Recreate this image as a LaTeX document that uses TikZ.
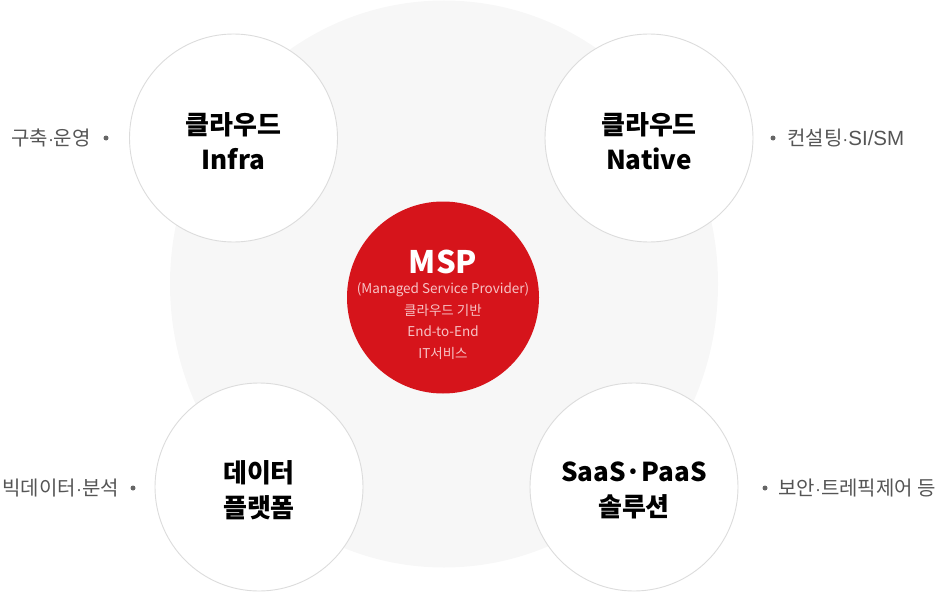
\documentclass[tikz,border=0pt]{standalone}
\usepackage{fontspec}
\setmainfont{Noto Sans CJK KR}
\newfontfamily\sidelatin{Liberation Sans}
\definecolor{bggray}{HTML}{F7F7F7}
\definecolor{ringgray}{HTML}{DCDCDC}
\definecolor{mspred}{HTML}{D6141B}
\definecolor{subpink}{HTML}{F7C3C5}
\definecolor{sidegray}{HTML}{555555}
\definecolor{dotgray}{HTML}{666666}
\newcommand{\sdot}{{\sidelatin\fontsize{18}{22}\selectfont ·}}
\tikzset{
  topic/.style={circle, draw=ringgray, line width=0.9pt, fill=white, minimum size=208pt, inner sep=0pt},
  topiclbl/.style={align=center, inner sep=0pt, font=\fontsize{26}{35}\selectfont\bfseries, text=black},
  sidelbl/.style={inner sep=0pt, font=\fontsize{20}{22}\selectfont, text=sidegray},
  bullet/.style={circle, fill=dotgray, minimum size=5pt, inner sep=0pt},
  core/.style={circle, fill=mspred, minimum size=192pt, inner sep=0pt},
}
\begin{document}
\begin{tikzpicture}[x=1pt,y=-1pt]
\useasboundingbox (0,0) rectangle (941,591);
% background ellipse
\fill[bggray] (444,284) ellipse [x radius=274, y radius=283.5];
% four topic circles
\node[topic] (infra) at (233.5,138) {};
\node[topic] (native) at (649,138) {};
\node[topic] (data) at (259,487) {};
\node[topic] (saas) at (634,487) {};
\node[topiclbl] (infraT) at (233.5,141.5) {클라우드\\Infra};
\node[topiclbl] (nativeT) at (649,141.5) {클라우드\\Native};
\node[topiclbl] (dataT) at (259,490) {데이터\\플랫폼};
\node[topiclbl] (saasT) at (634,490) {SaaS·PaaS\\솔루션};
% central circle
\node[core] (msp) at (443,297.5) {};
\node[inner sep=0pt, text=white, font=\fontsize{31}{31}\selectfont\bfseries] (mspT) at (443,262) {MSP};
\node[inner sep=0pt, text=subpink, align=center, font=\fontsize{13.5}{21.7}\selectfont] (mspS) at (443,321) {(Managed Service Provider)\\클라우드 기반\\End-to-End\\IT서비스};
% side labels
\node[sidelbl, anchor=east] (infraS) at (91,138) {구축\sdot 운영};
\node[bullet] (infraB) at (106,138) {};
\node[bullet] (nativeB) at (773,138) {};
\node[sidelbl, anchor=west] (nativeS) at (787,138) {컨설팅{\sidelatin\fontsize{18}{22}\selectfont ·}{\sidelatin\fontsize{20.5}{22}\selectfont SI/SM}};
\node[sidelbl, anchor=east] (dataS) at (119,488) {빅데이터\sdot 분석};
\node[bullet] (dataB) at (133,488) {};
\node[bullet] (saasB) at (765,488) {};
\node[sidelbl, anchor=west] (saasS) at (778,488) {보안\sdot 트레픽제어 등};
\end{tikzpicture}
\end{document}
